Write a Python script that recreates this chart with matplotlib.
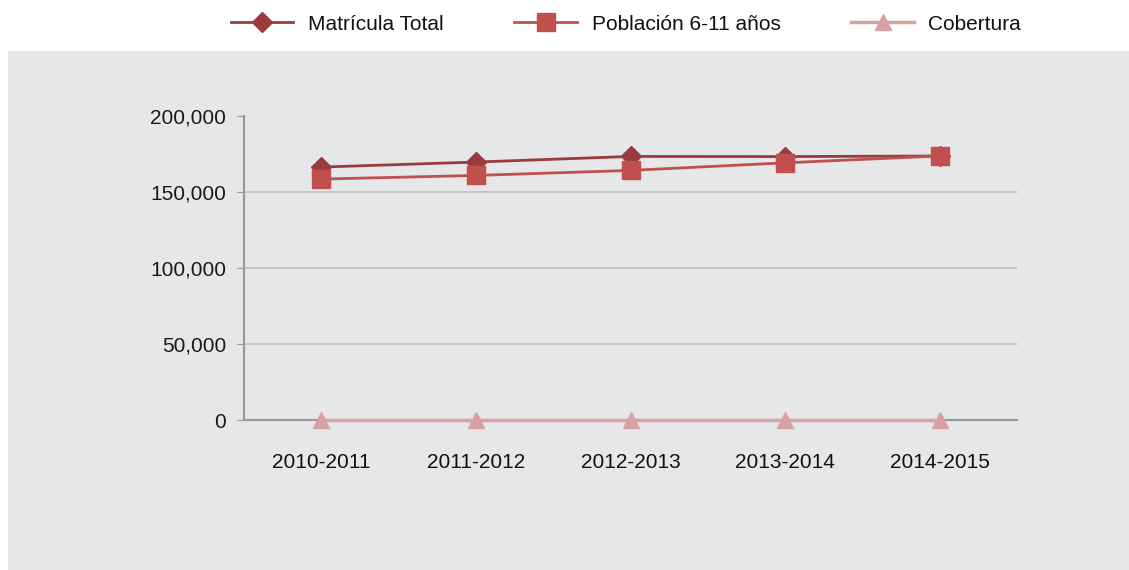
import matplotlib.pyplot as plt
from matplotlib.ticker import FuncFormatter
from matplotlib import font_manager

periodos = ["2010-2011", "2011-2012", "2012-2013", "2013-2014", "2014-2015"]
matricula = [166400, 169700, 173400, 173300, 173700]
poblacion = [158500, 160900, 164200, 169200, 173700]
cobertura = [1.05, 1.05, 1.06, 1.02, 1.00]

names = {f.name for f in font_manager.fontManager.ttflist}
fam = "Liberation Sans Narrow" if "Liberation Sans Narrow" in names else "Liberation Sans"
plt.rcParams["font.family"] = [fam, "DejaVu Sans"]

W, H = 1129, 570
fig = plt.figure(figsize=(W / 100, H / 100), dpi=100)
fig.patch.set_facecolor("white")

# gray panel behind the plot
bg = fig.add_axes([8 / W, 0, 1 - 8 / W, 1 - 51 / H], zorder=-1)
bg.set_facecolor("#E6E7E8")
bg.set_xticks([])
bg.set_yticks([])
for s in bg.spines.values():
    s.set_visible(False)

ax = fig.add_axes([244 / W, 1 - 420 / H, (1017 - 244) / W, (420 - 116) / H], zorder=1)
ax.set_facecolor("none")

x = range(len(periodos))
l1, = ax.plot(x, matricula, color="#9B3B3D", lw=2, marker="D", ms=10, label="Matrícula Total", zorder=3)
l2, = ax.plot(x, poblacion, color="#C0504D", lw=2, marker="s", ms=12.5, label="Población 6-11 años", zorder=4)
l3, = ax.plot(x, cobertura, color="#D8A2A2", lw=2.5, marker="^", ms=12, label="Cobertura", zorder=5,
              clip_on=False)

ax.set_xlim(-0.5, len(periodos) - 0.5)
ax.set_ylim(0, 200000)
ax.set_yticks(range(0, 200001, 50000))
ax.yaxis.set_major_formatter(FuncFormatter(lambda v, p: f"{int(v):,}"))
ax.set_xticks(list(x))
ax.set_xticklabels(periodos)

for s in ["top", "right"]:
    ax.spines[s].set_visible(False)
for s in ["left", "bottom"]:
    ax.spines[s].set_color("#999999")
    ax.spines[s].set_linewidth(1.5)
ax.grid(axis="y", color="#BFBFBF", lw=1.2)
ax.yaxis.get_gridlines()[-1].set_visible(False)
ax.set_axisbelow(True)
ax.tick_params(axis="y", length=5, color="#999999", labelsize=15, pad=8, labelcolor="#1a1a1a")
ax.tick_params(axis="x", length=0, labelsize=15, pad=24, labelcolor="#111111")

fig.legend(handles=[l1, l2, l3], loc="center", bbox_to_anchor=(626 / W, 1 - 24 / H), ncol=3,
           frameon=False, fontsize=15, handlelength=3.0, columnspacing=3.4, handletextpad=0.7,
           labelcolor="#111111")

fig.savefig("out.png", dpi=100)
